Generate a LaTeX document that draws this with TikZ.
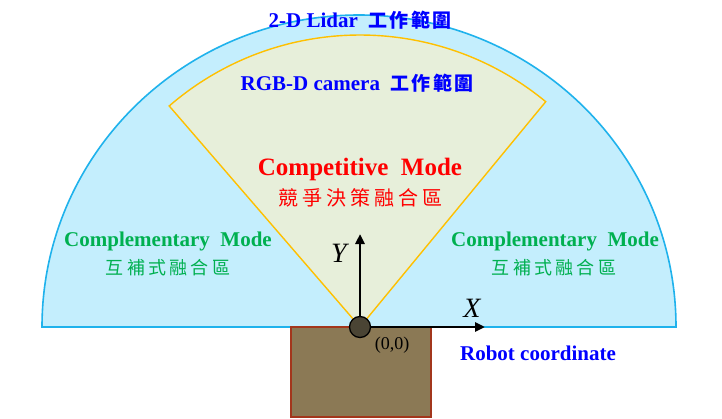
\documentclass[tikz,border=0pt]{standalone}
\usepackage{fontspec}
\setmainfont{Liberation Serif}
\newfontfamily\cjk[LetterSpace=12]{Noto Sans CJK TC}
\usetikzlibrary{arrows.meta}
\definecolor{lidarfill}{HTML}{C4EEFD}
\definecolor{lidarline}{HTML}{1FB2EC}
\definecolor{camfill}{HTML}{E7EFDA}
\definecolor{camline}{HTML}{FFC000}
\definecolor{robotfill}{HTML}{8B7955}
\definecolor{robotline}{HTML}{A3361C}
\definecolor{dotfill}{HTML}{4A4434}
\definecolor{modegreen}{HTML}{00B050}

\begin{document}
\begin{tikzpicture}[
  x=1pt, y=1pt,
  every node/.style={inner sep=0pt, align=center},
  lidarzone/.style={draw=lidarline, fill=lidarfill, line width=1.6pt},
  camzone/.style={draw=camline, fill=camfill, line width=1.4pt},
  robot/.style={draw=robotline, fill=robotfill, line width=1.4pt},
  origin/.style={circle, draw=black, fill=dotfill, line width=1.3pt, minimum size=21pt},
  axis/.style={-{Triangle[length=10pt,width=9pt]}, line width=2.5pt},
  rangetxt/.style={text=blue, font=\fontsize{21}{24}\selectfont\bfseries},
  compet/.style={text=red, font=\fontsize{25}{28}\selectfont\bfseries},
  compl/.style={text=modegreen, font=\fontsize{21}{24}\selectfont\bfseries},
  axlabel/.style={font=\fontsize{28}{30}\selectfont\itshape},
]
\useasboundingbox (0,0) rectangle (722,418);
% sensor ranges
\draw[lidarzone] (42,91) arc[start angle=180, end angle=0, x radius=317, y radius=312] -- cycle;
\draw[camzone] (360,91) -- ++(130.8:292) arc[start angle=130.8, end angle=50.5, radius=292] -- cycle;
% robot body
\draw[robot] (291,1) rectangle (431,91);
% frame
\coordinate (orig) at (360,91);
\coordinate (xend) at (485,91);
\coordinate (yend) at (360,184);
\draw[axis] (orig) -- (xend);
\draw[axis] (orig) -- (yend);
\node[origin] (O) at (orig) {};
% labels
\node[rangetxt] (lidar) at (360,398) {2-D Lidar\ \ {\cjk\fontsize{19}{22}\selectfont 工作範圍}};
\node[rangetxt] (camera) at (357,335) {RGB-D camera\ \ {\cjk\fontsize{19}{22}\selectfont 工作範圍}};
\node[compet] (compmode) at (360,249) {Competitive\ \ Mode};
\node[text=red, font=\cjk\fontsize{20}{24}\selectfont\addfontfeature{LetterSpace=20}] (compzh) at (360,220) {競爭決策融合區};
\node[compl] (lmode) at (168,177) {Complementary\ \ Mode};
\node[text=modegreen, font=\cjk\fontsize{18}{22}\selectfont\addfontfeature{LetterSpace=18}] (lzh) at (168,150) {互補式融合區};
\node[compl] (rmode) at (555,177) {Complementary\ \ Mode};
\node[text=modegreen, font=\cjk\fontsize{18}{22}\selectfont\addfontfeature{LetterSpace=18}] (rzh) at (554,150) {互補式融合區};
\node[axlabel] (ylab) at (339,165) {Y};
\node[axlabel] (xlab) at (472,110) {X};
\node[font=\fontsize{18}{20}\selectfont] (zero) at (392,73) {(0,0)};
\node[rangetxt] (robotcs) at (538,65) {Robot coordinate};
\end{tikzpicture}
\end{document}
